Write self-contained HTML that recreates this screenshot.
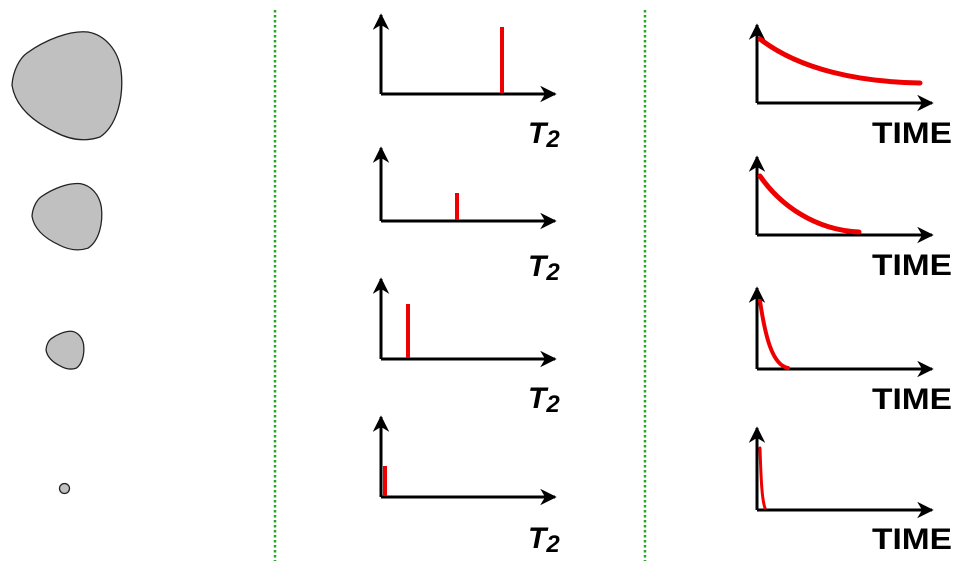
<!DOCTYPE html>
<html><head><meta charset="utf-8"><style>
html,body{margin:0;padding:0;background:#fff;}
svg{display:block}
.t{font-family:"Liberation Sans",sans-serif;font-weight:bold;}
</style></head><body>
<svg width="963" height="561" viewBox="0 0 963 561" xmlns="http://www.w3.org/2000/svg">
<defs>
<marker id="a" viewBox="0 0 10 10" refX="9" refY="5" markerWidth="5.5" markerHeight="5.5" orient="auto" markerUnits="strokeWidth"><path d="M0,0 L10,5 L0,10 L3,5 Z" fill="#000"/></marker>
<path id="blob" d="M27,53 C45,40 70,30 88,32 C105,35 118,50 121,70 C124,95 118,125 100,137 C85,142 70,140 55,132 C30,120 15,105 12,85 C13,70 20,58 27,53 Z"/>
</defs>
<g fill="#c0c0c0" stroke="#222" stroke-width="1.3">
<use href="#blob"/>
<use href="#blob" transform="translate(32,183) scale(0.636,0.615) translate(-12,-31)" stroke-width="2"/>
<use href="#blob" transform="translate(46,331) scale(0.345,0.35) translate(-12,-31)" stroke-width="3.7"/>
<circle cx="64.5" cy="488.5" r="5"/>
</g>
<g stroke="#2a2" stroke-width="2.5" stroke-dasharray="2.5,2.5">
<line x1="275" y1="10" x2="275" y2="561"/>
<line x1="645" y1="10" x2="645" y2="561"/>
</g>
<g stroke="#000" stroke-width="3" fill="none" marker-end="url(#a)">
<line x1="381" y1="94" x2="381" y2="15"/><line x1="381" y1="94" x2="555" y2="94"/>
<line x1="381" y1="221" x2="381" y2="148"/><line x1="381" y1="221" x2="555" y2="221"/>
<line x1="381" y1="359" x2="381" y2="279"/><line x1="381" y1="359" x2="555" y2="359"/>
<line x1="381" y1="497" x2="381" y2="417"/><line x1="381" y1="497" x2="555" y2="497"/>
<line x1="757" y1="103" x2="757" y2="25"/><line x1="757" y1="103" x2="932" y2="103"/>
<line x1="757" y1="235" x2="757" y2="157"/><line x1="757" y1="235" x2="932" y2="235"/>
<line x1="757" y1="369" x2="757" y2="288"/><line x1="757" y1="369" x2="932" y2="369"/>
<line x1="757" y1="510" x2="757" y2="428"/><line x1="757" y1="510" x2="932" y2="510"/>
</g>
<g stroke="#e00" stroke-width="4" fill="none" stroke-linecap="round">
<line x1="502" y1="27" x2="502" y2="93" stroke-linecap="butt"/>
<line x1="457" y1="193" x2="457" y2="220" stroke-linecap="butt"/>
<line x1="408" y1="304" x2="408" y2="358" stroke-linecap="butt"/>
<line x1="385" y1="466" x2="385" y2="496" stroke-linecap="butt"/>
<path d="M760,39 C800,70 860,82 920,83" stroke-width="5"/>
<path d="M760,176 C780,205 815,230 859,232" stroke-width="5"/>
<path d="M760,301 C765,335 772,365 788,368" stroke-width="4"/>
<path d="M760,448 C761,480 762,500 765,508" stroke-width="3"/>
</g>
<g class="t" font-size="30" font-style="italic">
<text x="528" y="143">T<tspan font-size="24" dy="4">2</tspan></text>
<text x="528" y="276">T<tspan font-size="24" dy="4">2</tspan></text>
<text x="528" y="408">T<tspan font-size="24" dy="4">2</tspan></text>
<text x="528" y="548">T<tspan font-size="24" dy="4">2</tspan></text>
</g>
<g class="t" font-size="30">
<text x="872" y="143" textLength="80" lengthAdjust="spacingAndGlyphs">TIME</text>
<text x="872" y="275" textLength="80" lengthAdjust="spacingAndGlyphs">TIME</text>
<text x="872" y="409" textLength="80" lengthAdjust="spacingAndGlyphs">TIME</text>
<text x="872" y="549" textLength="80" lengthAdjust="spacingAndGlyphs">TIME</text>
</g>
</svg>
</body></html>
